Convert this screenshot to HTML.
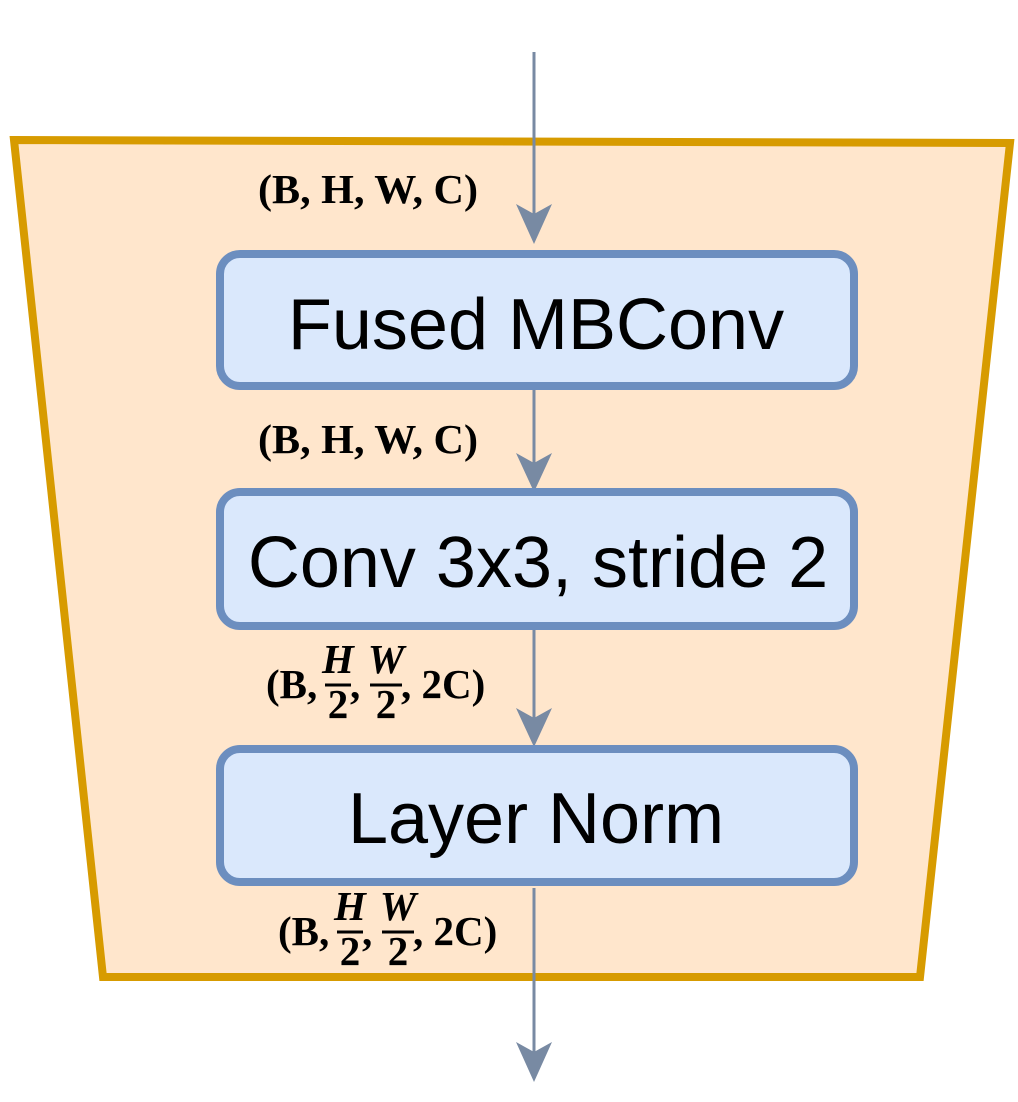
<!DOCTYPE html>
<html><head><meta charset="utf-8"><style>
body{margin:0;background:#fff}
svg text{font-family:"Liberation Sans",sans-serif}
.l{font-family:"Liberation Serif",serif;font-weight:bold;font-size:41px;fill:#000}
.b{font-size:72px;fill:#000}
</style></head><body>
<svg width="1018" height="1097" viewBox="0 0 1018 1097" xmlns="http://www.w3.org/2000/svg">
<polygon points="14,140 1010,143 920,977 103,977" fill="#FFE6CC" stroke="#D79B00" stroke-width="8"/>
<g stroke="#788AA3" stroke-width="3" fill="none">
<line x1="534" y1="52" x2="534" y2="230"/>
<line x1="534" y1="390" x2="534" y2="478"/>
<line x1="534" y1="630" x2="534" y2="735"/>
<line x1="534" y1="888" x2="534" y2="1068"/>
</g>
<g fill="#788AA3">
<polygon points="516,204 534,244 552,204 534,214"/>
<polygon points="516,453 534,492 552,453 534,463"/>
<polygon points="516,708 534,747 552,708 534,718"/>
<polygon points="516,1042 534,1082 552,1042 534,1052"/>
</g>
<g fill="#DAE8FC" stroke="#6C8EBF" stroke-width="8">
<rect x="220" y="254" width="634" height="132" rx="20"/>
<rect x="220" y="492" width="634" height="134" rx="20"/>
<rect x="220" y="749" width="634" height="133" rx="20"/>
</g>
<text class="b" x="536" y="349" text-anchor="middle">Fused MBConv</text>
<text class="b" x="538" y="587" text-anchor="middle">Conv 3x3, stride 2</text>
<text class="b" x="536" y="843" text-anchor="middle">Layer Norm</text>
<text class="l" x="258" y="203" textLength="220" lengthAdjust="spacingAndGlyphs">(B, H, W, C)</text>
<text class="l" x="258" y="453" textLength="220" lengthAdjust="spacingAndGlyphs">(B, H, W, C)</text>
<g>
<text class="l" x="266" y="698">(B,</text>
<text class="l" x="338" y="673" font-size="28" font-style="italic" text-anchor="middle">H</text>
<line x1="325" y1="685" x2="351" y2="685" stroke="#000" stroke-width="3"/>
<text class="l" x="338" y="718" font-size="34" text-anchor="middle">2</text>
<text class="l" x="350" y="698">,</text>
<text class="l" x="386" y="673" font-size="28" font-style="italic" text-anchor="middle">W</text>
<line x1="370" y1="685" x2="402" y2="685" stroke="#000" stroke-width="3"/>
<text class="l" x="386" y="718" font-size="34" text-anchor="middle">2</text>
<text class="l" x="401" y="698" font-weight="normal">, 2C)</text>
</g>
<g>
<text class="l" x="278" y="945">(B,</text>
<text class="l" x="350" y="920" font-size="28" font-style="italic" text-anchor="middle">H</text>
<line x1="337" y1="932" x2="363" y2="932" stroke="#000" stroke-width="3"/>
<text class="l" x="350" y="965" font-size="34" text-anchor="middle">2</text>
<text class="l" x="362" y="945">,</text>
<text class="l" x="398" y="920" font-size="28" font-style="italic" text-anchor="middle">W</text>
<line x1="382" y1="932" x2="414" y2="932" stroke="#000" stroke-width="3"/>
<text class="l" x="398" y="965" font-size="34" text-anchor="middle">2</text>
<text class="l" x="413" y="945" font-weight="normal">, 2C)</text>
</g>
</svg>
</body></html>
